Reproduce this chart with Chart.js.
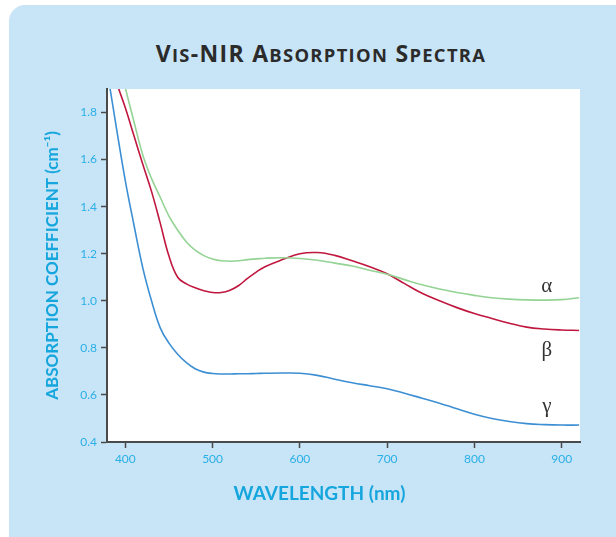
<!DOCTYPE html>
<html><head><meta charset="utf-8">
<script src="https://cdn.jsdelivr.net/npm/chart.js@4/dist/chart.umd.min.js"></script>
<style>
html,body{margin:0;padding:0;background:#fff;width:616px;height:537px;overflow:hidden;}
#panel{position:absolute;left:9px;top:5px;width:660px;height:600px;background:#c8e4f7;border-radius:16px;}
#title{position:absolute;left:26px;width:590px;top:38px;text-align:center;font-family:"Open Sans",sans-serif;font-weight:bold;font-size:23px;letter-spacing:1.3px;color:#2b2b2b;line-height:30px;margin:0;white-space:nowrap;}
#title span{font-size:0.8em;}
#wrap{position:absolute;left:0;top:0;width:616px;height:537px;}
</style></head><body>
<div id="panel"></div>
<h1 id="title">V<span>IS</span>-NIR A<span>BSORPTION</span> S<span>PECTRA</span></h1>
<div id="wrap"><canvas id="c" width="616" height="537"></canvas></div>
<script>
// ---- data ----
const wavelengths = [380,390,400,410,420,430,440,450,460,470,480,490,500,510,520,530,540,550,560,580,600,620,640,660,680,700,720,740,760,780,800,820,840,860,880,900,920];
const alphaValues = [2.22,2.06,1.905,1.76,1.62,1.52,1.44,1.36,1.30,1.25,1.215,1.192,1.178,1.17,1.168,1.17,1.175,1.178,1.181,1.183,1.18,1.172,1.16,1.148,1.13,1.113,1.09,1.068,1.05,1.035,1.023,1.013,1.007,1.004,1.003,1.005,1.013];
const betaValues  = [2.08,1.93,1.82,1.70,1.58,1.465,1.33,1.19,1.10,1.072,1.055,1.043,1.035,1.035,1.045,1.065,1.095,1.122,1.145,1.175,1.20,1.205,1.193,1.17,1.145,1.115,1.073,1.032,1.0,0.971,0.946,0.925,0.905,0.888,0.88,0.876,0.874];
const gammaValues = [1.96,1.73,1.51,1.32,1.14,1.0,0.885,0.82,0.773,0.737,0.711,0.697,0.691,0.689,0.689,0.69,0.69,0.691,0.692,0.693,0.692,0.683,0.667,0.652,0.639,0.626,0.607,0.586,0.565,0.541,0.518,0.5,0.487,0.478,0.474,0.472,0.472];
const seriesNames = ['α','β','γ'];
const xTickValues = [400,500,600,700,800,900];
const yTickValues = [0.4,0.6,0.8,1.0,1.2,1.4,1.6,1.8];
const xTitle = 'WAVELENGTH (nm)';
const yTitle = 'ABSORPTION COEFFICIENT (cm\u207B\u00B9)';

// label anchors in data units (curve names next to the curves)
const labelAnchors = {'α':{x:883,y:1.06},'β':{x:883,y:0.79},'γ':{x:883,y:0.55}};

const seriesColors = ['#94d394','#c0173f','#3d8fd4'];
const seriesData = [alphaValues, betaValues, gammaValues];

const tickColor = '#2ab0e6';
const titleColor = '#16a6de';

const plotBg = {
  id:'plotBg',
  beforeDraw(chart){
    const {ctx, chartArea:a} = chart;
    ctx.save(); ctx.fillStyle='#ffffff';
    ctx.fillRect(a.left, a.top, a.right-a.left, a.bottom-a.top);
    ctx.restore();
  }
};
const curveLabels = {
  id:'curveLabels',
  afterDatasetsDraw(chart){
    const {ctx, scales:{x,y}} = chart;
    ctx.save();
    ctx.font = '21px "Liberation Serif", "DejaVu Serif", serif';
    ctx.fillStyle = '#333333';
    ctx.textAlign = 'center'; ctx.textBaseline = 'middle';
    chart.data.datasets.forEach(ds => {
      const p = labelAnchors[ds.label];
      ctx.fillText(ds.label, x.getPixelForValue(p.x), y.getPixelForValue(p.y));
    });
    ctx.restore();
  }
};
// x-axis title, drawn under the axis (slightly left of the plot centre, as in the reference)
const xAxisTitle = {
  id:'xAxisTitle',
  afterDraw(chart){
    const {ctx, chartArea:a} = chart;
    ctx.save();
    ctx.font = 'bold 19px Lato, sans-serif';
    ctx.fillStyle = titleColor;
    ctx.textAlign = 'center'; ctx.textBaseline = 'middle';
    ctx.fillText(xTitle, (a.left + a.right)/2 - 24, a.bottom + 52);
    ctx.restore();
  }
};

new Chart(document.getElementById('c'), {
  type:'line',
  data:{
    datasets: seriesNames.map((n,i)=>({
      label:n,
      data: wavelengths.map((w,j)=>({x:w, y:seriesData[i][j]})),
      borderColor: seriesColors[i],
      borderWidth: 1.6,
      pointRadius: 0,
      fill:false,
      tension:0.4
    }))
  },
  options:{
    responsive:false,
    animation:false,
    devicePixelRatio:1,
    layout:{padding:{top:89,right:36,bottom:0,left:0}},
    plugins:{legend:{display:false},title:{display:false},tooltip:{enabled:false}},
    scales:{
      x:{
        type:'linear', min:379, max:921,
        afterBuildTicks: s => { s.ticks = xTickValues.map(v=>({value:v})); },
        afterFit: s => { s.height = 95; },
        ticks:{color:tickColor, font:{family:'Lato', size:12}, padding:4, callback:v=>String(v)},
        grid:{drawOnChartArea:false, drawTicks:true, tickLength:6, tickColor:'#4a4a4a', tickWidth:1.5},
        border:{color:'#4a4a4a', width:2},
        title:{display:false, text:xTitle}
      },
      y:{
        min:0.4, max:1.9,
        afterBuildTicks: s => { s.ticks = yTickValues.map(v=>({value:v})); },
        afterFit: s => { s.width = 107; },
        ticks:{color:tickColor, font:{family:'Lato', size:12}, padding:4, callback:v=>v.toFixed(1)},
        grid:{drawOnChartArea:false, drawTicks:true, tickLength:6, tickColor:'#4a4a4a', tickWidth:1.5},
        border:{color:'#4a4a4a', width:2},
        title:{display:true, text:yTitle, color:titleColor, font:{family:'Lato', size:17, weight:'bold'}, padding:{top:42,bottom:0}}
      }
    }
  },
  plugins:[plotBg, curveLabels, xAxisTitle]
});
</script>
</body></html>
